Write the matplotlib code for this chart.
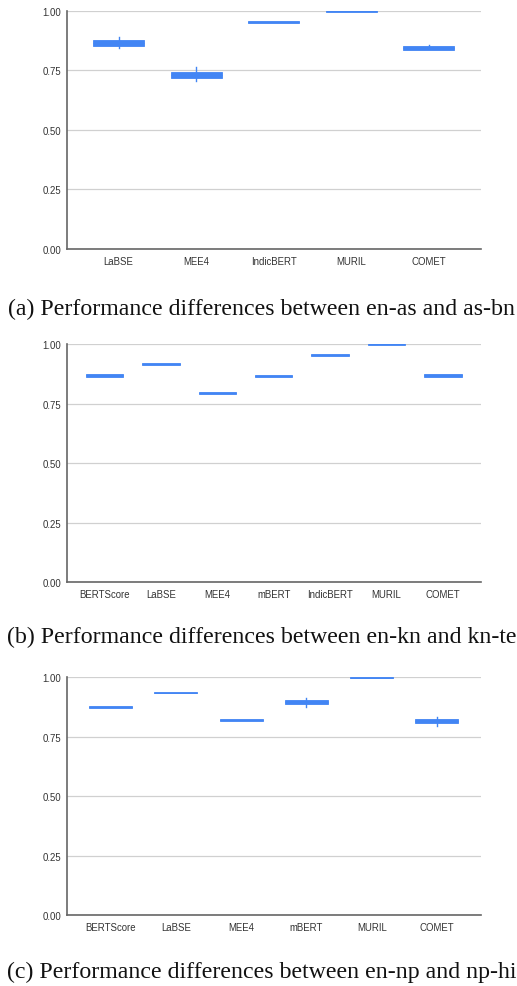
import matplotlib
matplotlib.use("Agg")
import matplotlib.pyplot as plt

# ---- data ----
cats_a = ["LaBSE", "MEE4", "IndicBERT", "MURIL", "COMET"]
q1_a = [0.853, 0.716, 0.950, 0.996, 0.836]
q3_a = [0.876, 0.744, 0.957, 1.000, 0.851]
lo_a = [0.842, 0.705, 0.950, 0.996, 0.836]
hi_a = [0.891, 0.763, 0.957, 1.000, 0.855]

cats_b = ["BERTScore", "LaBSE", "MEE4", "mBERT", "IndicBERT", "MURIL", "COMET"]
q1_b = [0.863, 0.913, 0.791, 0.860, 0.951, 0.997, 0.863]
q3_b = [0.873, 0.919, 0.798, 0.868, 0.957, 1.000, 0.873]
lo_b = q1_b
hi_b = q3_b

cats_c = ["BERTScore", "LaBSE", "MEE4", "mBERT", "MURIL", "COMET"]
q1_c = [0.872, 0.932, 0.815, 0.886, 0.998, 0.806]
q3_c = [0.878, 0.939, 0.824, 0.904, 1.000, 0.824]
lo_c = [0.872, 0.932, 0.815, 0.875, 0.998, 0.797]
hi_c = [0.878, 0.939, 0.824, 0.913, 1.000, 0.833]

yticks = [0.0, 0.25, 0.5, 0.75, 1.0]
ytick_labels = ["0.00", "0.25", "0.50", "0.75", "1.00"]

captions = [
    "(a) Performance differences between en-as and as-bn",
    "(b) Performance differences between en-kn and kn-te",
    "(c) Performance differences between en-np and np-hi",
]

BLUE = "#4285F4"

fig = plt.figure(figsize=(5.17, 9.87), dpi=100)
W, H = 517, 987

panels = [
    (cats_a, q1_a, q3_a, lo_a, hi_a, 11.7, 249.7, 309),
    (cats_b, q1_b, q3_b, lo_b, hi_b, 345.0, 583.3, 637),
    (cats_c, q1_c, q3_c, lo_c, hi_c, 678.3, 916.3, 972),
]

for (cats, q1, q3, lo, hi, ytop, ybot, capy), cap in zip(panels, captions):
    ax = fig.add_axes([66.7 / W, 1 - ybot / H, (480.7 - 66.7) / W, (ybot - ytop) / H])
    stats = []
    for c, a, b, l, h in zip(cats, q1, q3, lo, hi):
        stats.append(dict(label=c, q1=a, q3=b, med=(a + b) / 2, whislo=l, whishi=h, fliers=[]))
    ax.bxp(stats, positions=range(len(cats)), widths=0.66, patch_artist=True,
           showcaps=False, showfliers=False,
           boxprops=dict(facecolor=BLUE, edgecolor=BLUE, linewidth=0.6),
           medianprops=dict(color=BLUE, linewidth=0.6),
           whiskerprops=dict(color=BLUE, linewidth=1.0))
    ax.set_xlim(-0.67, len(cats) - 0.33)
    ax.set_ylim(0, 1)
    ax.set_yticks(yticks)
    ax.set_yticklabels(ytick_labels)
    ax.yaxis.grid(True, color="#d0d0d0", linewidth=0.9)
    ax.set_axisbelow(True)
    for s in ["top", "right"]:
        ax.spines[s].set_visible(False)
    for s in ["left", "bottom"]:
        ax.spines[s].set_color("#666666")
        ax.spines[s].set_linewidth(1.2)
    ax.tick_params(axis="both", length=0, labelsize=6.9, labelcolor="#333333")
    ax.tick_params(axis="y", pad=4)
    ax.tick_params(axis="x", pad=5)
    for t in ax.get_xticklabels() + ax.get_yticklabels():
        t.set_fontfamily("Liberation Sans")
    for art in ax.patches + ax.lines:
        art.set_clip_on(False)
    fig.text(261.5 / W, 1 - capy / H, cap, ha="center", va="center",
             fontsize=17.2, family="Liberation Serif", color="#111111")

fig.savefig("out.png", dpi=100)
